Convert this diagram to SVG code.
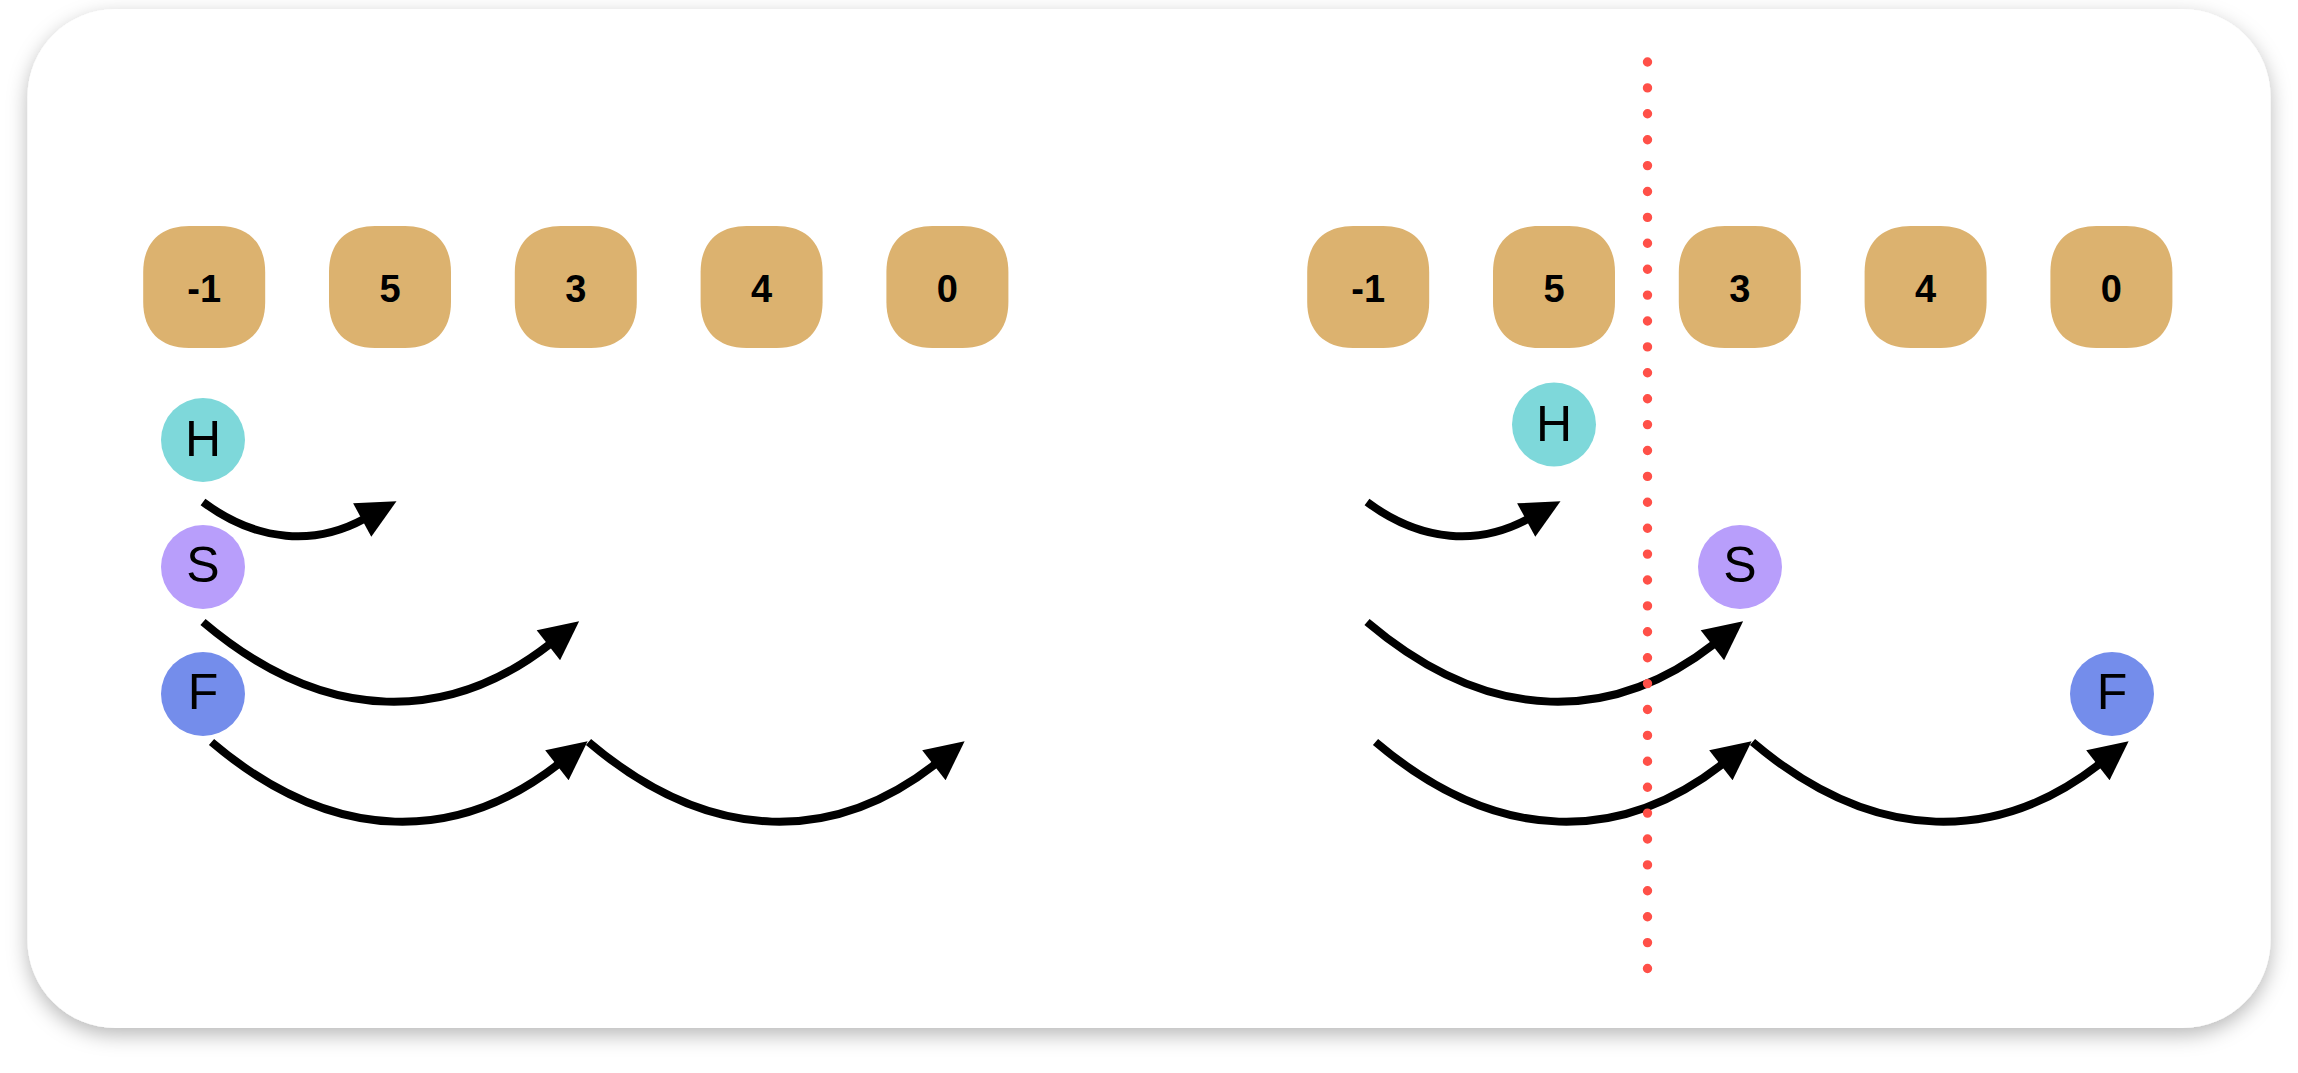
<svg xmlns="http://www.w3.org/2000/svg" width="2298" height="1073" viewBox="0 0 2298 1073">
  <defs>
    <filter id="cardShadow" x="-5%" y="-5%" width="110%" height="115%">
      <feDropShadow dx="0" dy="7" stdDeviation="10" flood-color="#000" flood-opacity="0.28"/>
    </filter>
    <marker id="arrowHead" markerUnits="userSpaceOnUse" markerWidth="40" markerHeight="38" viewBox="0 0 38 37" refX="2" refY="18.5" orient="auto">
      <path d="M0,0 L38,18.5 L0,37 z" fill="#000"/>
    </marker>
    <path id="squircle" d="M46,0 H76 C105,0 122,17 122,46 V76 C122,105 105,122 76,122 H46 C17,122 0,105 0,76 V46 C0,17 17,0 46,0 Z"/>
    <style>
      .box { fill: #DCB26F; }
      .val { font-family: "Liberation Sans", Arial, sans-serif; font-size: 38px; font-weight: bold; fill: #000; text-anchor: middle; }
      .ptr { font-family: "Liberation Sans", Arial, sans-serif; font-size: 50px; fill: #000; text-anchor: middle; }
      .h { fill: #7ED8DA; }
      .s { fill: #B89EFB; }
      .f { fill: #748DEB; }
      .arrow { fill: none; stroke: #000; stroke-width: 8; marker-end: url(#arrowHead); }
      .divider { fill: none; stroke: #FF5048; stroke-width: 9.4; stroke-linecap: round; stroke-dasharray: 0 25.9; }
    </style>
  </defs>

  <rect x="0" y="0" width="2298" height="1073" fill="#ffffff"/>
  <rect id="card" x="27.5" y="9" width="2243" height="1019" rx="88" ry="88" fill="#ffffff" filter="url(#cardShadow)"/>

  <!-- Left array -->
  <g id="L-box-0"><use href="#squircle" class="box" x="143.2" y="226"/><text class="val" x="204.2" y="301.5">-1</text></g>
  <g id="L-box-1"><use href="#squircle" class="box" x="329" y="226"/><text class="val" x="390" y="301.5">5</text></g>
  <g id="L-box-2"><use href="#squircle" class="box" x="514.8" y="226"/><text class="val" x="575.8" y="301.5">3</text></g>
  <g id="L-box-3"><use href="#squircle" class="box" x="700.6" y="226"/><text class="val" x="761.6" y="301.5">4</text></g>
  <g id="L-box-4"><use href="#squircle" class="box" x="886.4" y="226"/><text class="val" x="947.4" y="301.5">0</text></g>

  <g id="L-H"><circle class="h" cx="203" cy="440" r="42"/><text class="ptr" x="203" y="456">H</text></g>
  <g id="L-S"><circle class="s" cx="203" cy="567" r="42"/><text class="ptr" x="203" y="582">S</text></g>
  <g id="L-F"><circle class="f" cx="203" cy="694" r="42"/><text class="ptr" x="203" y="709">F</text></g>

  <!-- Right array -->
  <g id="R-box-0"><use href="#squircle" class="box" x="1307.2" y="226"/><text class="val" x="1368.2" y="301.5">-1</text></g>
  <g id="R-box-1"><use href="#squircle" class="box" x="1493" y="226"/><text class="val" x="1554" y="301.5">5</text></g>
  <g id="R-box-2"><use href="#squircle" class="box" x="1678.8" y="226"/><text class="val" x="1739.8" y="301.5">3</text></g>
  <g id="R-box-3"><use href="#squircle" class="box" x="1864.6" y="226"/><text class="val" x="1925.6" y="301.5">4</text></g>
  <g id="R-box-4"><use href="#squircle" class="box" x="2050.4" y="226"/><text class="val" x="2111.4" y="301.5">0</text></g>

  <g id="R-H"><circle class="h" cx="1554" cy="424.5" r="42"/><text class="ptr" x="1554" y="440.5">H</text></g>
  <g id="R-S"><circle class="s" cx="1740" cy="567" r="42"/><text class="ptr" x="1740" y="582">S</text></g>
  <g id="R-F"><circle class="f" cx="2112" cy="694" r="42"/><text class="ptr" x="2112" y="709">F</text></g>

  <!-- Connectors -->
  <g id="connectors">
    <path class="arrow" d="M203,502 C258,543 315.7,545.3 364,519"/>
    <path class="arrow" d="M203,622 C328,728 451.5,721 550,644"/>
    <path class="arrow" d="M211.5,742 C336.5,848 460,841 558.5,764"/>
    <path class="arrow" d="M588.5,742 C713.5,848 837,841 935.5,764"/>

    <path class="arrow" d="M1367,502 C1422,543 1479.7,545.3 1528,519"/>
    <path class="arrow" d="M1367,622 C1492,728 1615.5,721 1714,644"/>
    <path class="arrow" d="M1375.5,742 C1500.5,848 1624,841 1722.5,764"/>
    <path class="arrow" d="M1752.5,742 C1877.5,848 2001,841 2099.5,764"/>
  </g>

  <!-- Dotted divider -->
  <line id="divider" class="divider" x1="1647.5" y1="62" x2="1647.5" y2="969"/>
</svg>
